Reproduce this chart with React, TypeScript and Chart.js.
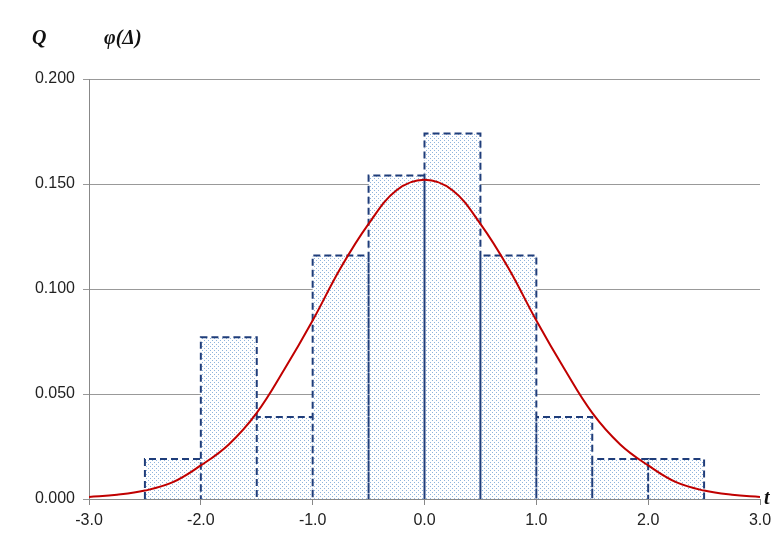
import React, { useEffect, useRef } from 'react';
import { Chart, registerables } from 'chart.js';

Chart.register(...registerables);

// histogram bins (left edge, right edge) and relative frequencies
const binEdges = [-2.5, -2.0, -1.5, -1.0, -0.5, 0.0, 0.5, 1.0, 1.5, 2.0, 2.5];
const binHeights = [0.019, 0.077, 0.039, 0.116, 0.154, 0.174, 0.116, 0.039, 0.019, 0.019];

// density curve
const curveT = [-3.0, -2.75, -2.5, -2.25, -2.0, -1.75, -1.5, -1.25, -1.0, -0.75, -0.5, -0.25, 0.0,
  0.25, 0.5, 0.75, 1.0, 1.25, 1.5, 1.75, 2.0, 2.25, 2.5, 2.75, 3.0];
const curvePhi = [0.001, 0.002, 0.004, 0.008, 0.016, 0.026, 0.041, 0.062, 0.085, 0.110, 0.131, 0.147, 0.152,
  0.147, 0.131, 0.110, 0.085, 0.062, 0.041, 0.026, 0.016, 0.008, 0.004, 0.002, 0.001];

const xTicks = [-3, -2, -1, 0, 1, 2, 3];

function dotPattern(ctx: CanvasRenderingContext2D) {
  const c = document.createElement('canvas');
  c.width = 4;
  c.height = 4;
  const p = c.getContext('2d')!;
  p.fillStyle = '#ffffff';
  p.fillRect(0, 0, 4, 4);
  p.fillStyle = '#8fb4dc';
  p.fillRect(0, 0, 1, 1);
  p.fillRect(2, 2, 1, 1);
  return ctx.createPattern(c, 'repeat')!;
}

export default function App() {
  const chartRef = useRef<HTMLCanvasElement>(null);

  useEffect(() => {
    if (!chartRef.current) return;
    const ctx = chartRef.current.getContext('2d');
    if (!ctx) return;

    // outline of histogram: each bar goes up, across, down
    const outline: { x: number; y: number }[] = [];
    binHeights.forEach((h, i) => {
      outline.push({ x: binEdges[i], y: 0 });
      outline.push({ x: binEdges[i], y: h });
      outline.push({ x: binEdges[i + 1], y: h });
      outline.push({ x: binEdges[i + 1], y: 0 });
    });
    const curve = curveT.map((t, i) => ({ x: t, y: curvePhi[i] }));

    const font = { family: 'Liberation Sans', size: 16 };

    const chart = new Chart(ctx, {
      type: 'line',
      data: {
        datasets: [
          {
            data: curve,
            borderColor: '#c00000',
            borderWidth: 2,
            pointRadius: 0,
            tension: 0.4,
            fill: false,
          },
          {
            data: outline,
            borderColor: '#1f3d7a',
            borderWidth: 2,
            borderDash: [7, 4],
            pointRadius: 0,
            tension: 0,
            fill: 'origin',
            backgroundColor: dotPattern(ctx),
          },
        ],
      },
      options: {
        animation: false,
        responsive: false,
        layout: { padding: { top: 79, right: 19 } },
        plugins: { legend: { display: false }, tooltip: { enabled: false } },
        scales: {
          x: {
            type: 'linear',
            min: -3,
            max: 3,
            afterBuildTicks: (s: any) => { s.ticks = xTicks.map(v => ({ value: v })); },
            afterFit: (s: any) => { s.height = 52; },
            ticks: { font, color: '#222', callback: (v: any) => Number(v).toFixed(1), maxRotation: 0, padding: 6 },
            grid: { drawOnChartArea: false, drawTicks: true, tickLength: 6, color: '#888' },
            border: { color: '#888' },
          },
          y: {
            min: 0,
            max: 0.2,
            afterFit: (s: any) => { s.width = 89; },
            ticks: { stepSize: 0.05, font, color: '#222', callback: (v: any) => Number(v).toFixed(3), padding: 8 },
            grid: { color: '#999', tickLength: 6 },
            border: { color: '#888' },
          },
        },
      },
    });

    return () => chart.destroy();
  }, []);

  const label: React.CSSProperties = {
    position: 'absolute',
    fontFamily: 'Liberation Serif',
    fontStyle: 'italic',
    fontWeight: 'bold',
    fontSize: 20,
    color: '#111',
  };

  return (
    <div style={{ position: 'fixed', left: 0, top: 0, width: 779, height: 551, background: '#fff' }}>
      <canvas ref={chartRef} width={779} height={551} />
      <div style={{ ...label, left: 32, top: 26 }}>Q</div>
      <div style={{ ...label, left: 104, top: 26 }}>φ(Δ)</div>
      <div style={{ ...label, left: 764, top: 486 }}>t</div>
    </div>
  );
}
